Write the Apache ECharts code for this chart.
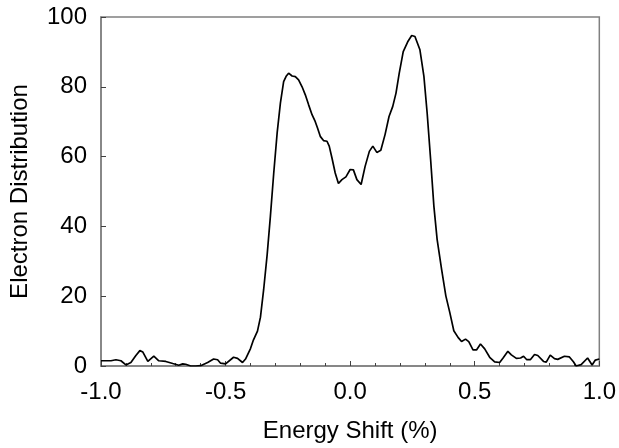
<!DOCTYPE html>
<html>
<head>
<meta charset="utf-8">
<script src="https://cdn.jsdelivr.net/npm/echarts@6/dist/echarts.min.js"></script>
<style>html,body{margin:0;padding:0;background:#fff}#c{width:619px;height:448px}</style>
</head>
<body>
<div id="c"></div>
<script>
var energyShift = [-1.000,-0.960,-0.940,-0.920,-0.900,-0.880,-0.860,-0.844,-0.832,-0.812,-0.788,-0.768,-0.740,-0.712,-0.688,-0.672,-0.660,-0.640,-0.620,-0.600,-0.572,-0.548,-0.532,-0.520,-0.500,-0.468,-0.452,-0.432,-0.420,-0.400,-0.388,-0.372,-0.360,-0.347,-0.333,-0.320,-0.307,-0.293,-0.280,-0.267,-0.257,-0.247,-0.233,-0.220,-0.207,-0.193,-0.180,-0.167,-0.153,-0.140,-0.131,-0.120,-0.107,-0.093,-0.084,-0.073,-0.060,-0.047,-0.033,-0.017,0.000,0.013,0.027,0.044,0.060,0.077,0.091,0.107,0.123,0.140,0.156,0.171,0.184,0.197,0.213,0.231,0.247,0.260,0.280,0.296,0.309,0.323,0.336,0.349,0.367,0.384,0.400,0.416,0.433,0.447,0.463,0.476,0.493,0.507,0.523,0.540,0.560,0.580,0.600,0.613,0.633,0.647,0.667,0.684,0.696,0.709,0.723,0.740,0.753,0.776,0.787,0.803,0.820,0.833,0.860,0.880,0.896,0.907,0.927,0.953,0.971,0.984,1.000];
var distribution = [1.5,1.5,1.8,1.5,0.3,1.0,3.0,4.4,4.0,1.3,2.8,1.5,1.3,0.7,0.2,0.6,0.5,0.0,0.0,0.1,1.0,2.0,1.8,0.8,0.6,2.5,2.2,1.0,2.0,5.0,7.5,10,14,22,32,43,55,66.8,75.3,81.5,83,83.9,83.1,82.9,82,80,77.7,74.9,72,70,68.2,65.8,64.6,64.4,63,59.6,55.3,52.3,53.4,54.2,56.3,56.2,53.4,52,57.2,61.5,63,61.2,61.8,66.3,71.5,74.4,78.2,83.9,90.1,92.9,94.7,94.4,90.6,83,72.5,59.1,45.8,36.3,27.7,20.1,15.3,10.1,8.2,7,7.7,7,4.6,4.6,6.3,4.9,2.5,1.2,1,2.2,4.2,3.2,2.2,2.3,2.8,1.8,1.8,3.3,3,1.3,1.1,3.1,2.1,1.9,2.8,2.6,1.2,0,0.4,2.3,0.3,1.7,2];
var xTitle = 'Energy Shift (%)';
var yTitle = 'Electron Distribution';

var pts = energyShift.map(function(x, i){ return [x, distribution[i]]; });
var font = 'Liberation Sans, Arial, sans-serif';
var chart = echarts.init(document.getElementById('c'), null, {renderer: 'canvas'});
chart.setOption({
  animation: false,
  backgroundColor: '#fff',
  grid: {left: 100, right: 19, top: 17, bottom: 81, show: true, borderColor: '#808080', borderWidth: 1.5, backgroundColor: 'transparent'},
  xAxis: {
    type: 'value', min: -1, max: 1, interval: 0.5,
    name: xTitle, nameLocation: 'middle', nameGap: 53,
    nameTextStyle: {color: '#000', fontSize: 24, fontFamily: font},
    axisLine: {show: true, onZero: false, lineStyle: {color: '#808080', width: 1.5}},
    axisTick: {show: true, inside: true, length: 5, lineStyle: {color: '#404040', width: 1}},
    minorTick: {show: true, splitNumber: 5, length: 3, lineStyle: {color: '#404040', width: 1}},
    splitLine: {show: false},
    axisLabel: {color: '#000', fontSize: 24, fontFamily: font, margin: 14, formatter: function(v){ return v.toFixed(1); }}
  },
  yAxis: {
    type: 'value', min: 0, max: 100, interval: 20,
    name: yTitle, nameLocation: 'middle', nameGap: 69,
    nameTextStyle: {color: '#000', fontSize: 24, fontFamily: font},
    axisLine: {show: true, onZero: false, lineStyle: {color: '#808080', width: 1.5}},
    axisTick: {show: true, inside: true, length: 5, lineStyle: {color: '#404040', width: 1}},
    splitLine: {show: false},
    axisLabel: {color: '#000', fontSize: 24, fontFamily: font, margin: 14}
  },
  series: [{
    type: 'line', data: pts, showSymbol: false, smooth: false,
    lineStyle: {color: '#000', width: 1.7},
    clip: true
  }]
});
</script>
</body>
</html>
